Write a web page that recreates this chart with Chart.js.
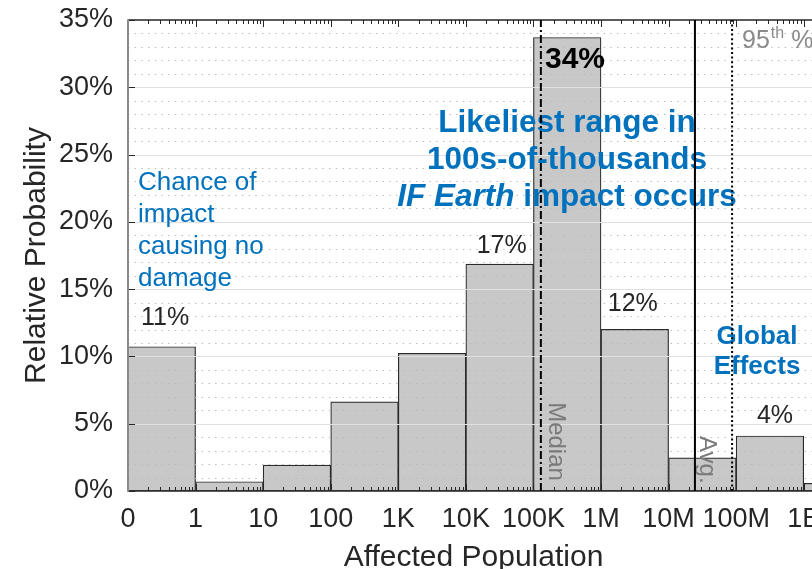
<!DOCTYPE html>
<html>
<head>
<meta charset="utf-8">
<script src="https://cdn.jsdelivr.net/npm/chart.js@4.4.1/dist/chart.umd.min.js"></script>
<style>
html,body{margin:0;padding:0;overflow:hidden;background:#fff;width:812px;height:569px}
#wrap{width:819px;height:569px}
canvas{display:block}
</style>
</head>
<body>
<div id="wrap"><canvas id="c" width="819" height="569"></canvas></div>
<script>
// ---------------- data ----------------
const xTickLabels = ['0', '1', '10', '100', '1K', '10K', '100K', '1M', '10M', '100M', '1B'];
const binCenters = [0.5, 1.5, 2.5, 3.5, 4.5, 5.5, 6.5, 7.5, 8.5, 9.5, 10.5];
const probabilities = [10.72, 0.69, 1.93, 6.63, 10.23, 16.86, 33.7, 12.01, 2.47, 4.09, 0.57];
const yTickValues = [0, 5, 10, 15, 20, 25, 30, 35];
const statNames = ['Median', 'Avg.', '95th %'];
const statPositions = [6.11, 8.39, 8.94];   // in decade units of the x axis
const barValueLabels = ['11%', '17%', '34%', '12%', '4%'];

// ---------------- styling / layout ----------------
const FONT = "'Liberation Sans', Arial, Helvetica, sans-serif";
const TXT = '#262626';
const BLUE = '#0072BD';
const GRAY = '#7a7a7a';

// annotation positions (x in decade units, y in percent)
const annotations = [
  {lines: ['Chance of', 'impact', 'causing no', 'damage'], x: 0.148, y: 22.37, step: 32, size: 26, weight: 'normal', color: BLUE, align: 'left'},
  {lines: [barValueLabels[0]], x: 0.548, y: 12.34, size: 25, color: TXT, align: 'center'},
  {lines: [barValueLabels[1]], x: 5.53, y: 17.66, size: 25, color: TXT, align: 'center'},
  {lines: [barValueLabels[2]], x: 6.615, y: 31.43, size: 30, weight: 'bold', color: '#000', align: 'center'},
  {lines: [barValueLabels[3]], x: 7.47, y: 13.38, size: 25, color: TXT, align: 'center'},
  {lines: [barValueLabels[4]], x: 9.575, y: 5.03, size: 25, color: TXT, align: 'center'},
  {lines: ['Likeliest range in', '100s-of-thousands'], x: 6.497, y: 26.67, step: 37, size: 31.5, weight: 'bold', color: BLUE, align: 'center'},
  {lines: ['Global', 'Effects'], x: 9.309, y: 10.96, step: 30.5, size: 26, weight: 'bold', color: BLUE, align: 'center'}
];
const thirdLine = {x: 6.497, y: 21.18, size: 31.5};
const rotatedLabels = [
  {text: statNames[0], x: 6.23, y: 6.6},
  {text: statNames[1], x: 8.465, y: 4.09}
];
const pctLabel = {x: 9.087, y: 32.92};

const overlay = {
  id: 'overlay',
  afterDatasetDraw(chart, args) {
    if (args.index !== 0) return;
    const {ctx, chartArea: a, scales: {x, y}} = chart;
    ctx.save();
    // grid lines (on top of bars)
    for (let v = 1; v < 35; v++) {
      const py = Math.round(y.getPixelForValue(v)) + 0.5;
      ctx.beginPath();
      if (v % 5 === 0) { ctx.setLineDash([]); ctx.strokeStyle = '#e0e0e0'; }
      else { ctx.setLineDash([1.4, 5.3]); ctx.strokeStyle = '#b9b9b9'; }
      ctx.lineWidth = 1;
      ctx.moveTo(a.left, py); ctx.lineTo(a.right, py); ctx.stroke();
    }
    ctx.setLineDash([]);
    // x ticks top & bottom (log minor ticks)
    ctx.strokeStyle = TXT; ctx.lineWidth = 1;
    for (let d = 0; d <= Math.ceil(x.max); d++) {
      for (let k = 1; k <= 9; k++) {
        const v = d + Math.log10(k);
        if (v > x.max) continue;
        const px = Math.round(x.getPixelForValue(v)) + 0.5;
        const len = k === 1 ? 7 : 4;
        ctx.beginPath();
        ctx.moveTo(px, a.bottom); ctx.lineTo(px, a.bottom - len);
        ctx.moveTo(px, a.top); ctx.lineTo(px, a.top + len);
        ctx.stroke();
      }
    }
    // y ticks
    yTickValues.forEach(v => {
      const py = Math.round(y.getPixelForValue(v)) + 0.5;
      ctx.beginPath(); ctx.moveTo(a.left, py); ctx.lineTo(a.left + 7, py); ctx.stroke();
    });
    // axes lines
    ctx.lineWidth = 1.4; ctx.strokeStyle = TXT;
    ctx.beginPath();
    ctx.moveTo(a.left, a.bottom); ctx.lineTo(a.right, a.bottom);
    ctx.moveTo(a.left, a.top); ctx.lineTo(a.right, a.top);
    ctx.stroke();
    ctx.lineWidth = 2; ctx.strokeStyle = '#8a8a8a';
    ctx.beginPath(); ctx.moveTo(a.left, a.top - 0.7); ctx.lineTo(a.left, a.bottom + 0.7); ctx.stroke();

    // text annotations
    ctx.textBaseline = 'alphabetic';
    annotations.forEach(t => {
      ctx.font = (t.weight || 'normal') + ' ' + t.size + 'px ' + FONT;
      ctx.fillStyle = t.color;
      ctx.textAlign = t.align;
      const px = x.getPixelForValue(t.x);
      const py = y.getPixelForValue(t.y);
      t.lines.forEach((s, i) => ctx.fillText(s, px, py + i * (t.step || 0)));
    });
    // third line: "IF Earth impact occurs" with italic part
    {
      const px = x.getPixelForValue(thirdLine.x), py = y.getPixelForValue(thirdLine.y);
      const f1 = 'italic bold ' + thirdLine.size + 'px ' + FONT;
      const f2 = 'bold ' + thirdLine.size + 'px ' + FONT;
      const s1 = 'IF Earth', s2 = ' impact occurs';
      ctx.font = f1; const w1 = ctx.measureText(s1).width;
      ctx.font = f2; const w2 = ctx.measureText(s2).width;
      const x0 = px - (w1 + w2) / 2;
      ctx.textAlign = 'left'; ctx.fillStyle = BLUE;
      ctx.font = f1; ctx.fillText(s1, x0, py);
      ctx.font = f2; ctx.fillText(s2, x0 + w1, py);
    }
    // 95th %
    {
      const px = x.getPixelForValue(pctLabel.x), py = y.getPixelForValue(pctLabel.y);
      ctx.fillStyle = '#8a8a8a'; ctx.textAlign = 'left';
      ctx.font = '25px ' + FONT; ctx.fillText('95', px, py);
      let cx = px + ctx.measureText('95').width + 1;
      ctx.font = '16px ' + FONT; ctx.fillText('th', cx, py - 10);
      cx += ctx.measureText('th').width;
      ctx.font = '25px ' + FONT; ctx.fillText(' %', cx, py);
    }
    // rotated stat labels
    rotatedLabels.forEach(r => {
      ctx.save();
      ctx.translate(x.getPixelForValue(r.x), y.getPixelForValue(r.y));
      ctx.rotate(Math.PI / 2);
      ctx.font = '24px ' + FONT; ctx.fillStyle = GRAY;
      ctx.textAlign = 'left'; ctx.textBaseline = 'alphabetic';
      ctx.fillText(r.text, 0, 0);
      ctx.restore();
    });
    ctx.restore();
  }
};

const statDashes = [[8, 3, 2, 3], [], [2, 2.6]];
const statDatasets = statPositions.map((p, i) => ({
  type: 'line',
  label: statNames[i],
  data: [{x: p, y: 0}, {x: p, y: 35}],
  borderColor: '#000',
  borderWidth: 2,
  borderDash: statDashes[i],
  borderCapStyle: 'butt',
  pointRadius: 0,
  fill: false,
  order: 1
}));

new Chart(document.getElementById('c'), {
  type: 'bar',
  data: {
    datasets: [{
      label: 'Relative Probability',
      data: binCenters.map((c, i) => ({x: c, y: probabilities[i]})),
      backgroundColor: '#c8c8c8',
      borderColor: '#2a2a2a',
      borderWidth: 1.2,
      borderSkipped: false,
      barPercentage: 1,
      categoryPercentage: 1,
      order: 2
    }, ...statDatasets]
  },
  options: {
    responsive: false,
    devicePixelRatio: 1,
    animation: false,
    layout: {padding: {top: 20, left: 0, right: 0, bottom: 0}},
    plugins: {legend: {display: false}, tooltip: {enabled: false}},
    scales: {
      x: {
        type: 'linear',
        min: 0,
        max: 10.226,
        offset: false,
        grid: {display: false, offset: false, drawTicks: false},
        border: {display: false},
        ticks: {
          stepSize: 1,
          includeBounds: false,
          autoSkip: false,
          maxRotation: 0,
          minRotation: 0,
          padding: 12,
          color: TXT,
          font: {family: FONT, size: 27},
          callback: v => xTickLabels[Math.round(v)]
        },
        title: {display: true, text: 'Affected Population', color: TXT,
                font: {family: FONT, size: 30}, padding: {top: 0, bottom: -7}},
        afterFit: s => { s.height = 78; s.paddingLeft = 0; s.paddingRight = 0; }
      },
      y: {
        min: 0,
        max: 35,
        grid: {display: false, drawTicks: false},
        border: {display: false},
        ticks: {
          stepSize: 5,
          padding: 15,
          color: TXT,
          font: {family: FONT, size: 27},
          callback: v => v + '%'
        },
        title: {display: true, text: 'Relative Probability', color: TXT,
                font: {family: FONT, size: 30}, padding: {top: 19, bottom: 0}},
        afterFit: s => { s.width = 128; s.paddingTop = 0; s.paddingBottom = 0; }
      }
    }
  },
  plugins: [overlay]
});
</script>
</body>
</html>
